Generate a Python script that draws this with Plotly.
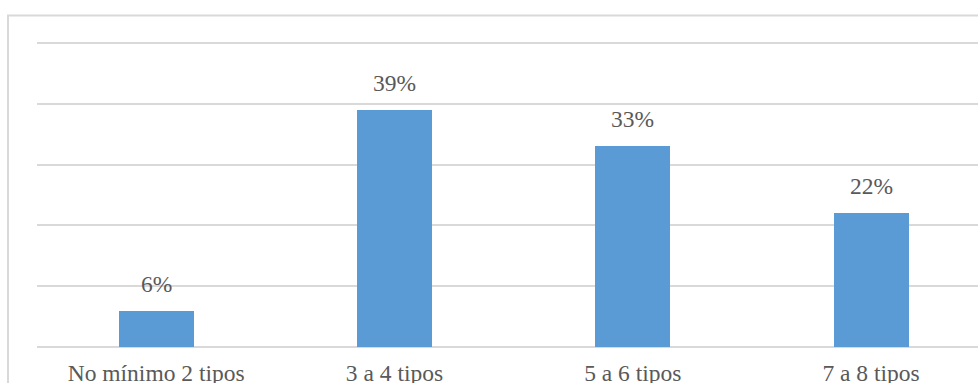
import plotly.graph_objects as go

categories = ["No mínimo 2 tipos", "3 a 4 tipos", "5 a 6 tipos", "7 a 8 tipos"]
values = [0.06, 0.39, 0.33, 0.22]
labels = ["6%", "39%", "33%", "22%"]

W, H = 978, 383
L, R, T, B = 37, 0, 40, 35.5
pw = W - L - R
ph = H - T - B
FONT = "Liberation Serif"

fig = go.Figure()
fig.add_trace(go.Bar(
    x=categories, y=values,
    marker=dict(color="#5b9bd5", line=dict(width=0)),
    width=75 / 238.3,
    hoverinfo="skip",
))

for c, v, t in zip(categories, values, labels):
    fig.add_annotation(x=c, y=v, text=t, showarrow=False, yanchor="bottom",
                       yshift=12, font=dict(family=FONT, size=23.5, color="#595959"))

# outer chart border (light gray)
fig.add_shape(type="rect", xref="paper", yref="paper",
              x0=(8 - L) / pw, x1=(W + 20 - L) / pw,
              y0=-0.3, y1=1 + (T - 15.5) / ph,
              line=dict(color="#d9d9d9", width=2), fillcolor="rgba(0,0,0,0)", layer="below")

fig.update_layout(
    width=W, height=H,
    margin=dict(l=L, r=R, t=T, b=B, pad=0),
    paper_bgcolor="white", plot_bgcolor="white",
    showlegend=False,
    bargap=0,
    xaxis=dict(type="category", range=[-0.5, 3.5 - (L + 4 * 238.3 - W) / 238.3],
               showgrid=False, showline=False, zeroline=False, ticks="",
               tickfont=dict(family=FONT, size=23.5, color="#595959"),
               ticklabelstandoff=9, automargin=False),
    yaxis=dict(range=[0, 0.505], tick0=0, dtick=0.1, showticklabels=False, showgrid=True,
               gridcolor="#d9d9d9", gridwidth=2, zeroline=True, zerolinecolor="#d9d9d9",
               zerolinewidth=2, showline=False, ticks="", automargin=False),
)

fig.write_html("out.html")
